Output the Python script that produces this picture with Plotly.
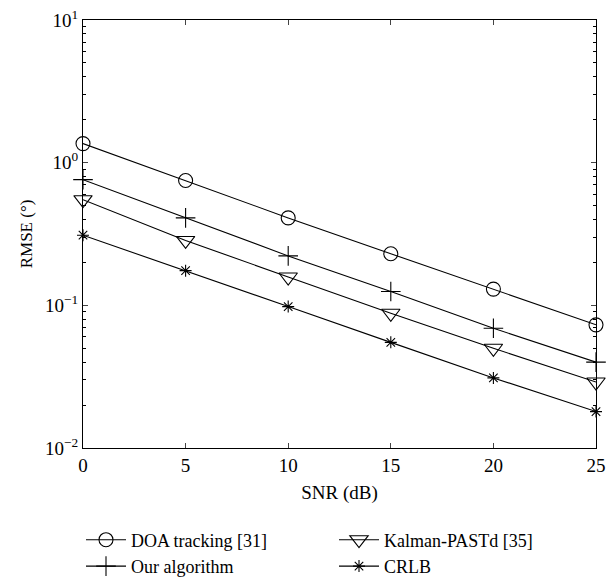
import plotly.graph_objects as go

snr = [0, 5, 10, 15, 20, 25]
doa = [1.36, 0.75, 0.41, 0.23, 0.13, 0.073]
ours = [0.76, 0.41, 0.222, 0.125, 0.069, 0.040]
kalman = [0.55, 0.285, 0.158, 0.088, 0.050, 0.029]
crlb = [0.31, 0.175, 0.098, 0.055, 0.031, 0.018]

ytickvals = [0.01, 0.1, 1, 10]
yticktext = ["10<sup>\u22122</sup>", "10<sup>\u22121</sup>", "10<sup>0</sup>", "10<sup>1</sup>"]
yminor = [m * 10 ** e for e in (-2, -1, 0) for m in range(2, 10)]

font = "Liberation Serif, Times New Roman, serif"
W, H = 606, 582

fig = go.Figure()
# legend order: row 1 = DOA, Kalman ; row 2 = Our, CRLB
series = [
    ("DOA tracking [31]", doa, "circle-open", 14),
    ("Kalman-PASTd [35]", kalman, "triangle-down-open", 16),
    ("Our algorithm", ours, "cross-thin-open", 14),
    ("CRLB", crlb, "asterisk-open", 10),
]
for name, vals, sym, sz in series:
    fig.add_trace(go.Scatter(
        x=snr, y=vals, name=name, mode="lines+markers",
        line=dict(color="black", width=1.1),
        marker=dict(symbol=sym, size=sz, color="black",
                    line=dict(color="black", width=1.1)),
        cliponaxis=False,
    ))

fig.update_layout(
    width=W, height=H,
    margin=dict(l=83, r=10, t=20, b=134),
    paper_bgcolor="white", plot_bgcolor="white",
    font=dict(family=font, size=18, color="black"),
    showlegend=True,
    legend=dict(
        orientation="h", xref="container", yref="container",
        x=81 / W, y=1 - 553 / H, xanchor="left", yanchor="middle",
        entrywidth=198, entrywidthmode="pixels",
        font=dict(family=font, size=18, color="black"),
        bgcolor="rgba(0,0,0,0)", borderwidth=0, itemwidth=40,
        tracegroupgap=0,
    ),
    xaxis=dict(
        range=[0, 25], tickvals=snr, ticks="inside", ticklen=5,
        showline=True, linecolor="black", linewidth=1, mirror="ticks",
        showgrid=False, zeroline=False, tickfont=dict(size=19),
        automargin=False,
        title=dict(text="SNR (dB)", standoff=10, font=dict(size=19)),
    ),
    yaxis=dict(
        type="log", range=[-2, 1], tickvals=ytickvals, ticktext=yticktext,
        ticks="inside", ticklen=5, tickfont=dict(size=19),
        showline=True, linecolor="black", linewidth=1, mirror="ticks",
        showgrid=False, zeroline=False, automargin=False,
        minor=dict(tickmode="array", tickvals=yminor, ticks="inside",
                   ticklen=3, tickcolor="black", showgrid=False),
        title=dict(text="RMSE (\u00b0)", standoff=8, font=dict(size=17)),
    ),
)

fig.write_html("out.html")
